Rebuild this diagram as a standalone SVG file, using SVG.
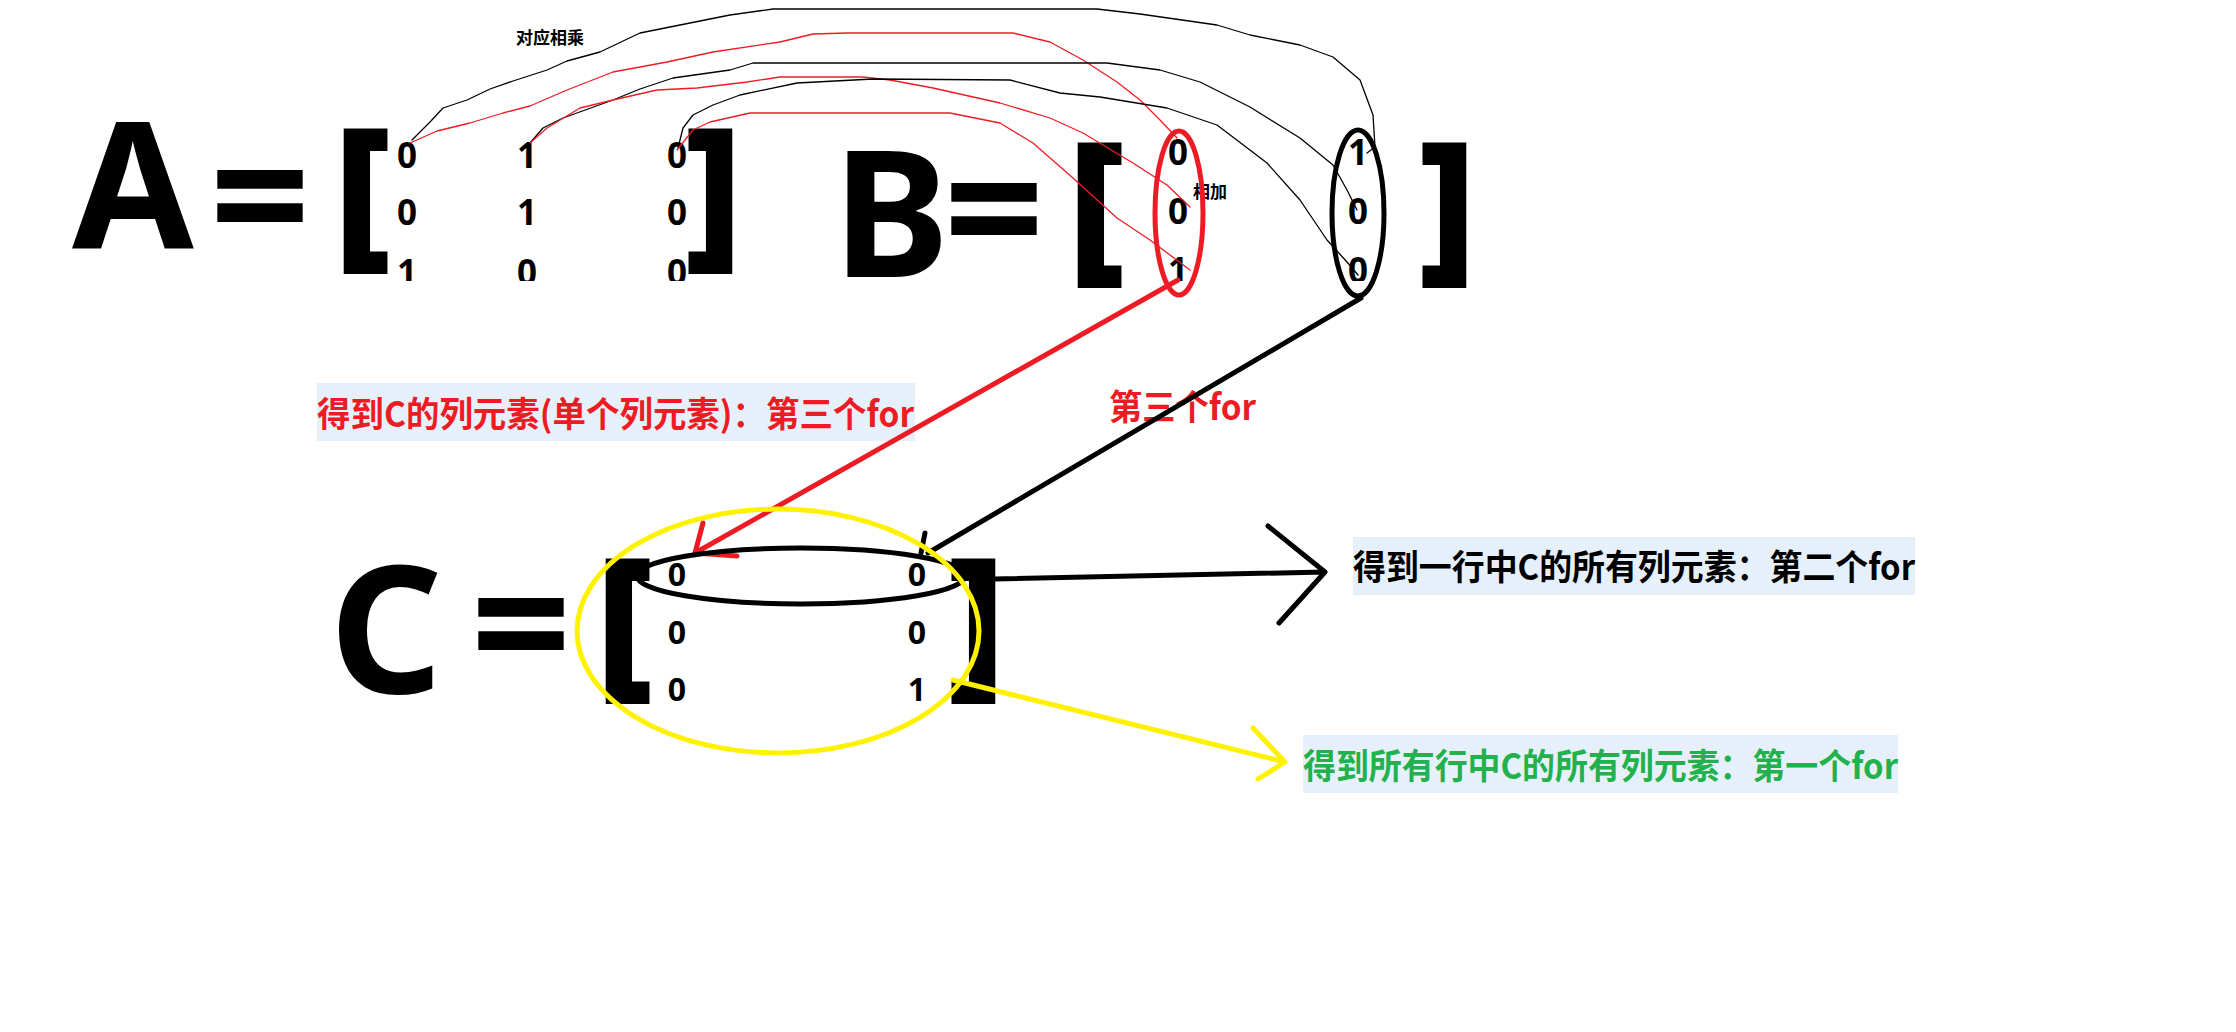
<svg xmlns="http://www.w3.org/2000/svg" width="2236" height="1032" viewBox="0 0 2236 1032">
<style>
.big{font-family:"Noto Sans","DejaVu Sans",sans-serif;font-weight:700;fill:#000}
.br{stroke:#000;stroke-width:6;stroke-linejoin:miter}
.dg{font-family:"Noto Sans","DejaVu Sans",sans-serif;font-weight:700;font-size:35px;fill:#000;text-anchor:middle}
.dgc{font-family:"Noto Sans","DejaVu Sans",sans-serif;font-weight:700;font-size:32px;fill:#000;text-anchor:middle}
.lbl{font-family:"Noto Sans CJK SC","Noto Sans",sans-serif;font-weight:700;font-size:35px}
.sm{font-family:"Noto Sans CJK SC","Noto Sans",sans-serif;font-weight:700;font-size:17px;fill:#000}
.box{fill:#E6F0FB}
.thin{fill:none;stroke-width:1.3;stroke-linejoin:round;stroke-linecap:round}
.k{stroke:#000}
.r{stroke:#ED1C24}
.thick{fill:none;stroke-width:5;stroke-linecap:round;stroke-linejoin:round}
</style>
<defs>
<clipPath id="top281"><rect x="0" y="0" width="2236" height="281"/></clipPath>
</defs>
<rect width="2236" height="1032" fill="#fff"/>

<g id="matrixA">
<text class="big" x="133" y="249" font-size="176" text-anchor="middle">A</text>
<text class="big" x="260" y="258" font-size="176" text-anchor="middle">=</text>
<text class="big br" x="362" y="246" font-size="160" text-anchor="middle">[</text>
<text class="big br" x="714" y="246" font-size="160" text-anchor="middle">]</text>
<g clip-path="url(#top281)">
<text class="dg" x="407" y="168">0</text><text class="dg" x="527" y="168">1</text><text class="dg" x="677" y="168">0</text>
<text class="dg" x="407" y="225">0</text><text class="dg" x="527" y="225">1</text><text class="dg" x="677" y="225">0</text>
<text class="dg" x="407" y="285">1</text><text class="dg" x="527" y="285">0</text><text class="dg" x="677" y="285">0</text>
</g>
</g>

<g id="matrixB">
<text class="big" x="891" y="277" font-size="176" text-anchor="middle">B</text>
<text class="big" x="994" y="271" font-size="176" text-anchor="middle">=</text>
<text class="big br" x="1096" y="260" font-size="160" text-anchor="middle">[</text>
<text class="big br" x="1448" y="260" font-size="160" text-anchor="middle">]</text>
<g clip-path="url(#top281)">
<text class="dg" x="1178" y="165">0</text><text class="dg" x="1358" y="165">1</text>
<text class="dg" x="1178" y="224">0</text><text class="dg" x="1358" y="224">0</text>
<text class="dg" x="1178" y="283">1</text><text class="dg" x="1358" y="283">0</text>
</g>
</g>

<g id="matrixC">
<text class="big" x="386" y="693" font-size="177" text-anchor="middle">C</text>
<text class="big" x="521" y="686" font-size="176" text-anchor="middle">=</text>
<text class="big br" x="624" y="676" font-size="160" text-anchor="middle">[</text>
<text class="big br" x="977" y="676" font-size="160" text-anchor="middle">]</text>
<text class="dgc" x="677" y="586">0</text><text class="dgc" x="917" y="586">0</text>
<text class="dgc" x="677" y="644">0</text><text class="dgc" x="917" y="644">0</text>
<text class="dgc" x="677" y="701">0</text><text class="dgc" x="917" y="701">1</text>
</g>

<g id="label-multiply"><text class="sm" x="516" y="44" textLength="68" lengthAdjust="spacingAndGlyphs">对应相乘</text></g>
<g id="label-add"><text class="sm" x="1193" y="198" textLength="34" lengthAdjust="spacingAndGlyphs">相加</text></g>

<g id="label-third">
<rect class="box" x="317" y="383" width="598" height="58"/>
<text class="lbl" x="317" y="427" fill="#ED1C24" textLength="597" lengthAdjust="spacingAndGlyphs">得到C的列元素(单个列元素)：第三个for</text>
</g>
<g id="label-third-short"><text class="lbl" x="1109" y="420" fill="#ED1C24" font-size="34" textLength="147" lengthAdjust="spacingAndGlyphs">第三个for</text></g>
<g id="label-second">
<rect class="box" x="1353" y="537" width="562" height="58"/>
<text class="lbl" x="1353" y="580" fill="#000" textLength="562" lengthAdjust="spacingAndGlyphs">得到一行中C的所有列元素：第二个for</text>
</g>
<g id="label-first">
<rect class="box" x="1303" y="735" width="595" height="58"/>
<text class="lbl" x="1303" y="779" fill="#22B14C" textLength="595" lengthAdjust="spacingAndGlyphs">得到所有行中C的所有列元素：第一个for</text>
</g>

<g id="connectors">
<ellipse cx="1179" cy="213" rx="24" ry="82" fill="none" stroke="#ED1C24" stroke-width="5"/>
<ellipse cx="1358" cy="213" rx="26" ry="83" fill="none" stroke="#000" stroke-width="5"/>
<path class="thin k" d="M412,140 L430,122 L443,108 L467,100 L490,89 L513,81 L547,70 L567,61 L600,52 L640,33 L680,25 L730,15 L773,9 L1097,9 L1140,14 L1217,25 L1250,35 L1300,45 L1333,57 L1360,80 L1373,115 L1375,147 L1367,153"/>
<path class="thin r" d="M410,143 L437,131 L470,123 L503,113 L530,106 L567,90 L613,72 L667,62 L713,52 L780,42 L813,34 L847,33 L1013,33 L1050,42 L1083,60 L1117,82 L1140,100 L1160,120 L1177,138"/>
<path class="thin k" d="M530,143 L543,128 L563,118 L613,100 L640,89 L673,78 L730,70 L753,63 L1107,63 L1160,70 L1200,82 L1250,107 L1300,138 L1333,165 L1347,190 L1357,210"/>
<path class="thin r" d="M530,143 L547,128 L580,108 L613,100 L657,90 L697,88 L747,82 L780,77 L863,77 L890,80 L933,88 L1000,103 L1050,118 L1083,133 L1133,163 L1167,185 L1190,207"/>
<path class="thin k" d="M678,148 L683,128 L693,115 L713,105 L740,95 L797,83 L873,79 L1010,80 L1060,93 L1100,97 L1167,108 L1217,125 L1267,163 L1300,200 L1327,240 L1347,262 L1358,275"/>
<path class="thin r" d="M677,150 L693,130 L710,122 L750,113 L950,113 L1000,123 L1033,143 L1073,178 L1117,218 L1150,240 L1190,270"/>
<path class="thick" stroke="#ED1C24" d="M1178,280 L695,553 M703,523 L695,553 L737,556"/>
<path class="thick" stroke="#000" d="M1361,298 L928,553 M925,533 L921,553"/>
<ellipse cx="801" cy="576" rx="164" ry="28" fill="none" stroke="#000" stroke-width="5"/>
<ellipse cx="778" cy="631" rx="201" ry="122" fill="none" stroke="#FFF200" stroke-width="5"/>
<path class="thick" stroke="#000" stroke-width="4" d="M994,579 L1325,572 M1268,526 L1325,572 L1279,623"/>
<path class="thick" stroke="#FFF200" stroke-width="4" d="M953,680 L1285,762 M1253,728 L1285,762 L1258,779"/>
</g>
</svg>
